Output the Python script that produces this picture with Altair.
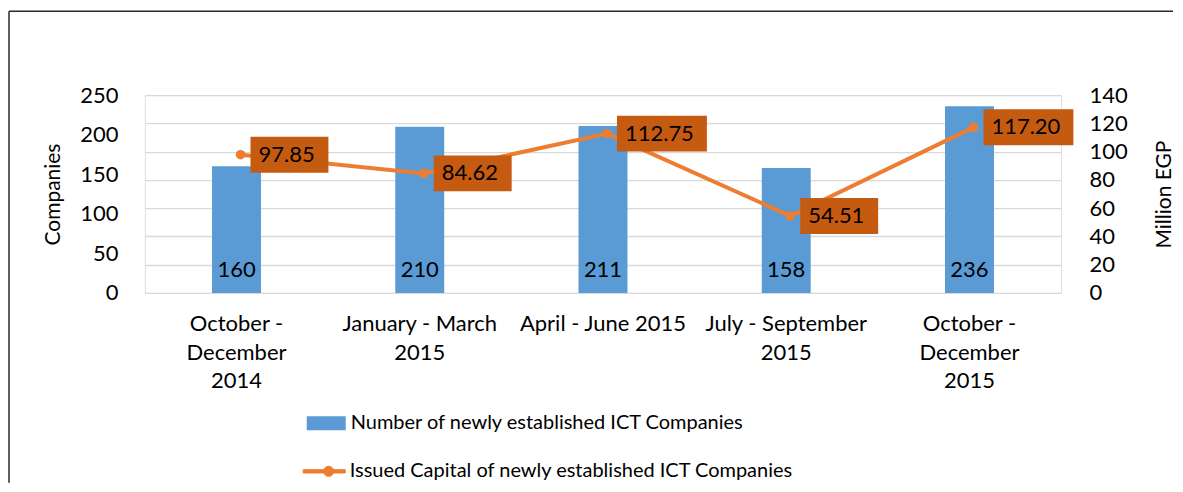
import altair as alt
import pandas as pd

# ---- data ----
categories = [
    "October -|December|2014",
    "January - March|2015",
    "April - June 2015",
    "July - September|2015",
    "October -|December|2015",
]
companies = [160, 210, 211, 158, 236]
capital = [97.85, 84.62, 112.75, 54.51, 117.20]
series_names = [
    "Number of newly established  ICT Companies",
    "Issued Capital of newly established  ICT Companies",
]
left_ticks = [0, 50, 100, 150, 200, 250]
right_ticks = [0, 20, 40, 60, 80, 100, 120, 140]

df = pd.DataFrame({"cat": categories, "companies": companies, "capital": capital})

FONT = "Lato"
W, H = 917, 198
BAR = "#5B9BD5"
LINE = "#ED7D31"
BOX = "#C55A11"
FRAME = "#2b2b1f"

xenc = alt.X(
    "cat:N",
    sort=categories,
    scale=alt.Scale(paddingInner=0, paddingOuter=0),
    axis=alt.Axis(
        title=None,
        labelAngle=0,
        labelExpr="split(datum.value, '|')",
        labelFontSize=22,
        labelLineHeight=28.5,
        labelPadding=21,
        labelFont=FONT,
        labelColor="#000",
        domain=False,
        ticks=False,
        labelOverlap=False,
        labelBound=False,
        labelFlush=False,
    ),
)

left_axis = alt.Axis(
    orient="left",
    values=left_ticks,
    title="Companies",
    titleFont=FONT,
    titleFontSize=21,
    titleFontWeight="normal",
    titleColor="#000",
    titlePadding=16,
    labelFont=FONT,
    labelFontSize=22,
    labelColor="#000",
    labelPadding=27,
    labelOverlap=False,
    grid=False,
    domain=False,
    ticks=False,
)
left_scale = alt.Scale(domain=[0, 250], nice=False)

# ---- left: bars ----
left_base = alt.Chart(df).transform_calculate(series="'" + series_names[0] + "'").encode(
    x=xenc,
    y=alt.Y("companies:Q", scale=left_scale, axis=left_axis),
)
bars = left_base.mark_bar(size=49).encode(
    fill=alt.Fill(
        "series:N",
        scale=alt.Scale(domain=[series_names[0]], range=[BAR]),
        legend=alt.Legend(
            title=None,
            orient="none",
            legendX=162,
            legendY=309,
            symbolType="M-1,-0.36H1V0.36H-1Z",
            symbolSize=1521,
            symbolStrokeWidth=0,
            labelFont=FONT,
            labelFontSize=20,
            labelColor="#000",
            labelOffset=5,
            padding=0,
            labelLimit=600,
        ),
    )
)
bar_text = left_base.mark_text(
    font=FONT, fontSize=22, color="#000", baseline="alphabetic", dy=-16
).encode(
    y=alt.Y("zero:Q", scale=left_scale, axis=left_axis),
    text=alt.Text("companies:Q", format="d"),
).transform_calculate(zero="0")

left = alt.layer(bars, bar_text)

# ---- right: line ----
right_base = alt.Chart(df).transform_calculate(
    series="'" + series_names[1] + "'",
    lab="format(datum.capital, '.2f')",
    ln="length(format(datum.capital, '.2f'))",
).encode(
    x=xenc,
    y=alt.Y(
        "capital:Q",
        scale=alt.Scale(domain=[0, 140], nice=False),
        axis=alt.Axis(
            orient="right",
            values=right_ticks,
            title="Million EGP",
            titleFont=FONT,
            titleFontSize=21,
            titleFontWeight="normal",
            titleColor="#000",
            titleAngle=270,
            titleBaseline="top",
            titlePadding=26,
            labelFont=FONT,
            labelFontSize=22,
            labelColor="#000",
            labelPadding=28,
            labelAlign="left",
            labelOverlap=False,
            grid=True,
            gridColor="#D9D9D9",
            gridWidth=1.3,
            domain=False,
            ticks=False,
        ),
    ),
)
line = right_base.mark_line(strokeWidth=4, xOffset=4).encode(
    stroke=alt.Stroke(
        "series:N",
        scale=alt.Scale(domain=[series_names[1]], range=[LINE]),
        legend=alt.Legend(
            title=None,
            orient="none",
            legendX=158,
            legendY=355,
            symbolType="M-1,-0.08H1V0.08H-1Z M0.45,0A0.24,0.24 0 1,1 -0.03,0A0.24,0.24 0 1,1 0.45,0Z",
            symbolSize=1764,
            symbolStrokeWidth=1,
            symbolFillColor=LINE,
            labelFont=FONT,
            labelFontSize=20,
            labelColor="#000",
            labelOffset=4,
            padding=0,
            labelLimit=600,
        ),
    )
)
points = right_base.mark_circle(size=90, color=LINE, opacity=1, xOffset=4)
boxes = right_base.mark_point(filled=True, opacity=1, size=1600, xOffset=4, color=BOX).encode(
    shape=alt.Shape(
        "ln:O",
        scale=alt.Scale(
            domain=[5, 6],
            range=["M0.5,-0.9H4.4V0.9H0.5Z", "M0.5,-0.9H5.0V0.9H0.5Z"],
        ),
        legend=None,
    )
)
box_text = right_base.mark_text(
    font=FONT, fontSize=22, color="#000", align="left", baseline="middle", dx=18, xOffset=4
).encode(text="lab:N")

right = alt.layer(line, points, boxes, box_text)

# ---- outer frame (left and top edges; the others lie outside the picture) ----
one = alt.Data(values=[{}])
frame_left = alt.Chart(one).mark_rule(color=FRAME, strokeWidth=1.5).encode(
    x=alt.value(-136), y=alt.value(-84), y2=alt.value(388)
)
frame_top = alt.Chart(one).mark_rule(color=FRAME, strokeWidth=1.5).encode(
    x=alt.value(-136), x2=alt.value(1029), y=alt.value(-84)
)

chart = (
    alt.layer(frame_left, frame_top, left, right)
    .resolve_scale(y="independent", fill="independent", stroke="independent", shape="independent")
    .properties(width=W, height=H, padding={"left": 0, "top": 2, "right": 0, "bottom": 0})
    .configure_view(stroke=None)
    .configure(background="white")
)

chart.save("out.html", embed_options={"renderer": "svg", "actions": False})
